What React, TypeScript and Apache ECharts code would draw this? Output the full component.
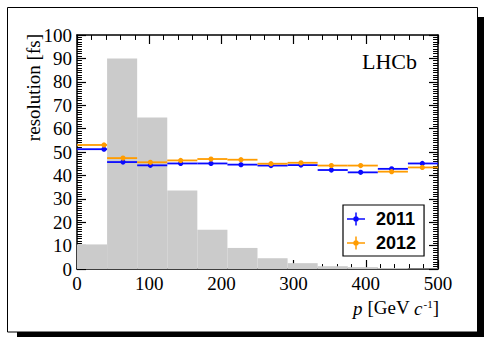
import React, { useEffect, useRef } from "react";
import * as echarts from "echarts";

// Histogram of momentum p (arbitrary scale on resolution axis)
const binEdges = [0, 41.67, 83.33, 125, 166.67, 208.33, 250, 291.67, 333.33, 375, 416.67, 458.33, 500];
const histHeights = [10.5, 90.0, 64.7, 33.6, 16.8, 9.0, 4.6, 2.5, 1.2, 0.8, 0.4, 0.2];

// mean p in each bin
const pMean = [37.4, 63.7, 101.6, 143.6, 185.6, 227.1, 268.7, 310.2, 352.3, 392.9, 435.8, 478.3];

// decay-time resolution [fs]
const res2011 = [51.2, 45.7, 44.3, 45.1, 45.1, 44.6, 44.2, 44.4, 42.3, 41.3, 42.8, 45.1];
const err2011 = [0.6, 0.3, 0.3, 0.3, 0.4, 0.4, 0.4, 0.5, 0.5, 0.6, 0.6, 0.6];
const res2012 = [53.0, 47.4, 45.6, 46.4, 47.0, 46.7, 45.0, 45.4, 44.2, 44.2, 41.6, 43.4];
const err2012 = [0.5, 0.3, 0.3, 0.3, 0.3, 0.4, 0.4, 0.4, 0.5, 0.5, 0.5, 0.6];

const xTickLabels = ["0", "100", "200", "300", "400", "500"];
const yTickLabels = ["0", "10", "20", "30", "40", "50", "60", "70", "80", "90", "100"];

const seriesNames = ["2011", "2012"];
const BLUE = "#0a0aff";
const ORANGE = "#ff9c00";
const SERIF = "Liberation Serif";

const crossIcon =
  "path://M0,5.75h18v1.5h-18z M8.25,0h1.5v13h-1.5z M6.3,6.5A2.7,2.7 0 1,1 11.7,6.5A2.7,2.7 0 1,1 6.3,6.5Z";

function errData(vals: number[], errs: number[]) {
  return vals.map((v, i) => [pMean[i], v, binEdges[i], binEdges[i + 1], errs[i]]);
}

function errRender(color: string) {
  return (params: any, api: any) => {
    const x = api.value(0);
    const y = api.value(1);
    const lo = api.value(2);
    const hi = api.value(3);
    const e = api.value(4);
    const pL = api.coord([lo, y]);
    const pR = api.coord([hi, y]);
    const pC = api.coord([x, y]);
    const pT = api.coord([x, y + e]);
    const pB = api.coord([x, y - e]);
    return {
      type: "group",
      children: [
        { type: "line", shape: { x1: pL[0], y1: pL[1], x2: pR[0], y2: pR[1] }, style: { stroke: color, lineWidth: 1.8 } },
        { type: "line", shape: { x1: pT[0], y1: pT[1], x2: pB[0], y2: pB[1] }, style: { stroke: color, lineWidth: 1.8 } },
        { type: "circle", shape: { cx: pC[0], cy: pC[1], r: 2.6 }, style: { fill: color } },
      ],
    };
  };
}

function axisCommon(showLabel: boolean, labels: string[], minorSplit: number, tickLen: number) {
  return {
    axisLine: { show: true, onZero: false, lineStyle: { color: "#000", width: 1.5 } },
    axisTick: { show: true, inside: true, length: tickLen, lineStyle: { color: "#000", width: 1.2 } },
    minorTick: { show: true, splitNumber: minorSplit, length: tickLen * 0.55, lineStyle: { color: "#000", width: 1 } },
    splitLine: { show: false },
    minorSplitLine: { show: false },
    axisLabel: {
      show: showLabel,
      fontFamily: SERIF,
      fontSize: 19,
      color: "#000",
      margin: 5,
      formatter: (v: number) => {
        const s = String(Math.round(v));
        return labels.includes(s) ? s : "";
      },
    },
  };
}

export default function App() {
  const ref = useRef<HTMLDivElement>(null);
  useEffect(() => {
    if (!ref.current) return;
    const chart = echarts.init(ref.current, null, { renderer: "svg" });
    const histData = histHeights.map((h, i) => [binEdges[i], binEdges[i + 1], h]);
    chart.setOption({
      animation: false,
      backgroundColor: "#fff",
      grid: { left: 77, right: 47, top: 35, bottom: 69, containLabel: false },
      xAxis: [
        { type: "value", min: 0, max: 500, interval: 100, position: "bottom", ...axisCommon(true, xTickLabels, 5, 9) },
        { type: "value", min: 0, max: 500, interval: 100, position: "top", ...axisCommon(false, xTickLabels, 5, 9) },
      ],
      yAxis: [
        { type: "value", min: 0, max: 100, interval: 10, position: "left", ...axisCommon(true, yTickLabels, 10, 9) },
        { type: "value", min: 0, max: 100, interval: 10, position: "right", ...axisCommon(false, yTickLabels, 10, 9) },
      ],
      legend: {
        orient: "vertical",
        left: 343,
        top: 205,
        padding: [5, 8, 4, 4],
        itemGap: 6,
        itemWidth: 18,
        itemHeight: 13,
        borderColor: "#000",
        borderWidth: 1.2,
        backgroundColor: "#fff",
        selectedMode: false,
        textStyle: { fontFamily: "Liberation Sans", fontWeight: "bold", fontSize: 18, color: "#000", padding: [0, 0, 0, 6] },
        data: seriesNames.map((n) => ({ name: n, icon: crossIcon })),
      },
      graphic: [
        { type: "rect", z: -10, shape: { x: 17, y: 17, width: 467, height: 320 }, style: { fill: "#000" } },
        { type: "rect", z: -9, shape: { x: 7.5, y: 7.5, width: 470, height: 324.5 }, style: { fill: "#fff", stroke: "#000", lineWidth: 1 } },
        {
          type: "text",
          x: 417,
          y: 61,
          z: 10,
          style: { text: "LHCb", fontFamily: SERIF, fontSize: 22, fill: "#000", align: "right", verticalAlign: "middle" },
        },
        {
          type: "text",
          x: 33,
          y: 34,
          rotation: Math.PI / 2,
          z: 10,
          style: { text: "resolution [fs]", fontFamily: SERIF, fontSize: 19, fill: "#000", align: "right", verticalAlign: "middle" },
        },
        {
          type: "text",
          x: 439,
          y: 296,
          z: 10,
          style: {
            text: "{i|p} [GeV {i|c}{s|-1}]",
            fontFamily: SERIF,
            fontSize: 19,
            fill: "#000",
            align: "right",
            verticalAlign: "top",
            rich: {
              i: { fontFamily: SERIF, fontSize: 19, fontStyle: "italic", lineHeight: 22, verticalAlign: "bottom" },
              s: { fontFamily: SERIF, fontSize: 11, lineHeight: 22, verticalAlign: "top", padding: [2, 0, 0, 1] },
            },
          },
        },
      ],
      series: [
        {
          type: "custom",
          name: "p distribution",
          xAxisIndex: 0,
          yAxisIndex: 0,
          z: 1,
          silent: true,
          data: histData,
          encode: { x: [0, 1], y: 2 },
          renderItem: (params: any, api: any) => {
            const a = api.coord([api.value(0), 0]);
            const b = api.coord([api.value(1), api.value(2)]);
            return {
              type: "rect",
              shape: { x: a[0], y: b[1], width: b[0] - a[0], height: a[1] - b[1] },
              style: { fill: "#cbcbcb" },
            };
          },
        },
        {
          type: "custom",
          name: seriesNames[0],
          xAxisIndex: 0,
          yAxisIndex: 0,
          z: 3,
          itemStyle: { color: BLUE },
          data: errData(res2011, err2011),
          encode: { x: 0, y: 1 },
          renderItem: errRender(BLUE),
        },
        {
          type: "custom",
          name: seriesNames[1],
          xAxisIndex: 0,
          yAxisIndex: 0,
          z: 4,
          itemStyle: { color: ORANGE },
          data: errData(res2012, err2012),
          encode: { x: 0, y: 1 },
          renderItem: errRender(ORANGE),
        },
      ],
    });
    return () => chart.dispose();
  }, []);
  return (
    <div
      ref={ref}
      style={{ position: "fixed", left: 0, top: 0, width: 485, height: 338 }}
    />
  );
}
